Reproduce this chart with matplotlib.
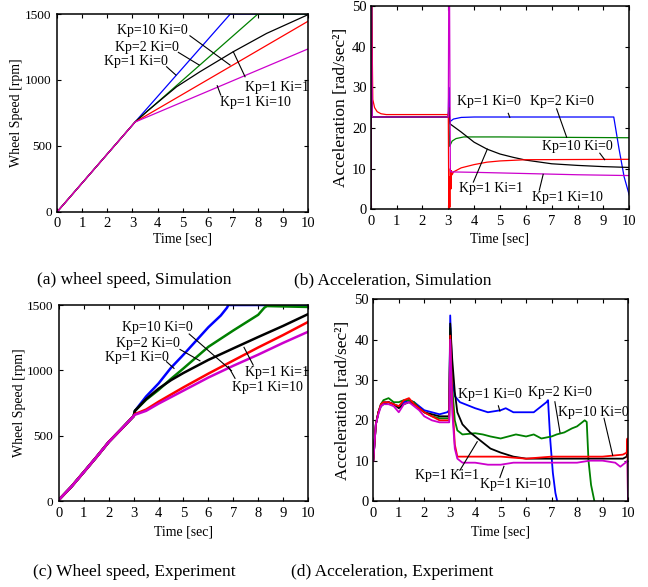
import numpy as np
import matplotlib.pyplot as plt

plt.rcParams['font.family'] = ['Liberation Serif', 'DejaVu Serif']

# colours per gain setting
C_BLUE = '#0000ff'
C_GREEN = '#008000'
C_BLACK = '#000000'
C_RED = '#ff0000'
C_MAG = '#cc00cc'

# ---------- (a) wheel speed, simulation ----------
sim_speed_t_blue = [0, 3.1, 6.9, 10]
sim_speed_blue = [0, 680, 1500, 1500]
sim_speed_t_green = [0, 3.1, 8.0, 10]
sim_speed_green = [0, 680, 1500, 1500]
sim_speed_t_black = [0, 3.1, 3.6, 4.2, 4.76, 5.69, 7.02, 8.35, 10]
sim_speed_black = [0, 680, 765, 860, 948, 1062, 1214, 1353, 1495]
sim_speed_t_red = [0, 3.1, 10]
sim_speed_red = [0, 680, 1445]
sim_speed_t_mag = [0, 3.1, 10]
sim_speed_mag = [0, 680, 1235]

# ---------- (b) acceleration, simulation ----------
sim_acc_t_blue = [0, 0.03, 0.06, 0.1, 3.0, 3.02, 3.05, 3.2, 3.5, 4.0, 9.4, 9.6, 9.8, 10]
sim_acc_blue = [0, 55, 22.7, 22.7, 22.7, 30, 21.5, 22.2, 22.6, 22.7, 22.7, 15, 8, 3.5]
sim_acc_t_green = [0, 0.03, 0.06, 0.1, 3.0, 3.02, 3.05, 3.15, 3.3, 3.6, 5.0, 10]
sim_acc_green = [0, 55, 22.7, 22.7, 22.7, 25, 15.5, 16.8, 17.4, 17.8, 17.8, 17.6]
sim_acc_t_black = [0, 0.03, 0.06, 0.1, 3.0, 3.02, 3.07, 3.5, 4.0, 4.5, 5.0, 5.5, 6.0, 7.0, 8.0, 9.0, 10]
sim_acc_black = [0, 55, 22.7, 22.7, 22.7, 25, 21.0, 19.0, 16.5, 14.8, 13.6, 12.8, 12.1, 11.2, 10.8, 10.5, 10.3]
sim_acc_t_red = [0, 0.03, 0.08, 0.15, 0.25, 0.4, 0.6, 3.0, 3.02, 3.04, 3.06, 3.08, 3.1, 3.12, 3.15, 3.2,
                 3.5, 4.0, 4.5, 5.0, 6.0, 10]
sim_acc_red = [0, 55, 27, 25, 24, 23.5, 23.3, 23.3, 0, 8, 0.5, 10, 5, 9.5, 8.5, 9.2,
               10.2, 11.0, 11.6, 11.9, 12.2, 12.3]
sim_acc_t_mag = [0, 0.03, 0.06, 3.0, 3.02, 3.05, 3.08, 3.1, 4.0, 6.0, 8.0, 10]
sim_acc_mag = [0, 55, 22.7, 22.7, 55, 50, 9.5, 9.2, 9.1, 8.8, 8.5, 8.3]

# ---------- (c) wheel speed, experiment ----------
exp_pre_t = [0, 0.5, 1.0, 1.5, 2.0, 2.5, 2.9, 3.0]
exp_pre_speed = [10, 110, 222, 335, 452, 550, 630, 650]
exp_speed_t_blue = [3.05, 3.5, 4.0, 4.5, 5.0, 5.5, 6.0, 6.5, 6.75, 6.8, 10]
exp_speed_blue = [690, 800, 900, 1020, 1120, 1225, 1330, 1420, 1480, 1500, 1500]
exp_speed_t_green = [3.05, 3.5, 4.0, 4.5, 5.0, 6.0, 7.0, 8.0, 8.25, 8.35, 10]
exp_speed_green = [690, 775, 850, 935, 1015, 1180, 1305, 1425, 1480, 1492, 1485]
exp_speed_t_black = [3.05, 3.5, 4.0, 4.5, 5.0, 6.0, 7.0, 8.0, 9.0, 10]
exp_speed_black = [690, 780, 860, 925, 980, 1080, 1168, 1255, 1340, 1430]
exp_speed_t_red = [3.05, 3.5, 4.0, 5.0, 6.0, 7.0, 8.0, 9.0, 10]
exp_speed_red = [665, 700, 760, 870, 975, 1075, 1175, 1270, 1370]
exp_speed_t_mag = [3.05, 3.5, 4.0, 5.0, 6.0, 7.0, 8.0, 9.0, 10]
exp_speed_mag = [660, 690, 745, 845, 945, 1035, 1120, 1210, 1295]

# ---------- (d) acceleration, experiment ----------
exp_acc_pre_t = [0, 0.1, 0.2, 0.3, 0.4, 0.6, 0.8, 1.0, 1.2, 1.4, 1.6, 1.8, 2.0, 2.3, 2.6, 2.9, 2.98, 3.02]
exp_acc_pre_blue = [10, 19, 22, 24, 24.5, 24.5, 24, 23.5, 24.5, 25, 24.5, 23.5, 22.5, 22, 21.5, 22, 22.5, 46]
exp_acc_pre_green = [10, 19, 22, 24, 25, 25.5, 24.5, 24.5, 25, 25, 24.5, 23, 22, 21, 20.5, 20.5, 20.5, 43]
exp_acc_pre_black = [10, 19, 22, 23.5, 24, 24.5, 24, 23, 24, 24.5, 24, 23, 22, 21.5, 21, 21, 21, 44]
exp_acc_pre_red = [10, 19, 22, 24, 24.5, 24.5, 24, 23.5, 25, 25.5, 24, 23, 22, 21, 20, 20, 20, 41]
exp_acc_pre_mag = [10, 19, 21.5, 23.5, 24, 24, 23.5, 22, 24, 24.5, 23.5, 22.5, 21, 20, 19.5, 19.5, 19.5, 40]

exp_acc_t_blue = [3.1, 3.2, 3.4, 3.6, 4.0, 4.5, 5.0, 5.2, 5.5, 6.0, 6.3, 6.5, 6.7, 6.8, 6.86,
                  6.95, 7.05, 7.15, 7.22]
exp_acc_blue = [30, 26, 24.5, 24, 23, 22, 22.5, 23, 22, 22, 22, 23, 24, 24.5, 25,
                15, 7, 2, 0]
exp_acc_t_green = [3.1, 3.2, 3.3, 3.5, 4.0, 4.3, 4.6, 5.0, 5.3, 5.6, 6.0, 6.3, 6.6, 7.0, 7.2, 7.5,
                   7.8, 8.0, 8.2, 8.3, 8.38, 8.45, 8.55, 8.68]
exp_acc_green = [28, 20, 17.5, 16.5, 16.8, 16.5, 16, 15.5, 16, 16.5, 16, 16.5, 15.5, 16, 16.5, 17,
                 18, 18.5, 19.5, 20, 19.6, 10, 4, 0]
exp_acc_t_black = [3.1, 3.2, 3.3, 3.5, 3.8, 4.0, 4.3, 4.6, 5.0, 5.5, 6.0, 7.0, 8.0, 9.0, 9.8, 9.95, 10]
exp_acc_black = [35, 27, 22, 19, 17, 16, 14.5, 13, 12, 11, 10.5, 10.5, 10.5, 10.5, 10.5, 11, 14]
exp_acc_t_red = [3.1, 3.2, 3.3, 3.5, 4.0, 5.0, 6.0, 7.0, 8.0, 9.0, 9.8, 9.95, 9.98, 10]
exp_acc_red = [25, 14, 11, 11, 11, 11, 10.5, 11, 11, 11, 11.5, 12, 15.5, 0]
exp_acc_t_mag = [3.1, 3.2, 3.3, 3.5, 4.0, 4.5, 5.0, 5.5, 6.0, 7.0, 8.0, 8.5, 9.0, 9.5, 9.7, 9.9, 9.98, 10]
exp_acc_mag = [22, 13, 10.5, 9.5, 9.5, 9, 9, 9.5, 9.5, 9.5, 9.5, 10, 10, 9.5, 8.5, 9.5, 10, 0]

# annotations: (text, text position, pointer start, pointer end)
ann_a = [('Kp=10 Ki=0', (2.38, 1378), (5.29, 1335), (6.89, 1113)),
         ('Kp=2 Ki=0', (2.30, 1244), (4.83, 1209), (5.66, 1113)),
         ('Kp=1 Ki=0', (1.86, 1138), (4.36, 1100), (4.73, 1037)),
         ('Kp=1 Ki=1', (7.49, 941), (7.49, 1024), (7.02, 1214)),
         ('Kp=1 Ki=10', (6.49, 830), (6.52, 885), (6.38, 956))]
ann_b = [('Kp=1 Ki=0', (3.35, 26.6), (5.32, 23.6), (5.38, 22.6)),
         ('Kp=2 Ki=0', (6.16, 26.6), (7.19, 24.7), (7.58, 17.7)),
         ('Kp=10 Ki=0', (6.64, 15.4), (8.86, 13.8), (9.05, 12.2)),
         ('Kp=1 Ki=1', (3.42, 5.0), (3.97, 6.7), (4.51, 14.8)),
         ('Kp=1 Ki=10', (6.25, 3.0), (6.52, 4.7), (6.67, 8.6))]
ann_c = [('Kp=10 Ki=0', (2.52, 1329), (5.23, 1278), (6.93, 997)),
         ('Kp=2 Ki=0', (2.28, 1206), (4.86, 1160), (5.66, 1073)),
         ('Kp=1 Ki=0', (1.85, 1096), (4.32, 1066), (4.62, 1015)),
         ('Kp=1 Ki=1', (7.47, 985), (7.80, 1040), (7.43, 1176)),
         ('Kp=1 Ki=10', (6.94, 870), (7.07, 939), (6.80, 1030))]
ann_d = [('Kp=1 Ki=0', (3.34, 26.3), (4.91, 23.6), (4.97, 22.3)),
         ('Kp=2 Ki=0', (6.09, 26.9), (7.13, 24.6), (7.33, 17.0)),
         ('Kp=10 Ki=0', (7.27, 22.0), (9.06, 20.5), (9.40, 11.3)),
         ('Kp=1 Ki=1', (1.64, 6.2), (3.40, 7.6), (4.08, 14.7)),
         ('Kp=1 Ki=10', (4.19, 4.0), (4.97, 5.8), (5.13, 8.6))]

captions = ['(a) wheel speed, Simulation', '(b) Acceleration, Simulation',
            '(c) Wheel speed, Experiment', '(d) Acceleration, Experiment']

fig = plt.figure(figsize=(6.48, 5.87), dpi=100)
ax_a = fig.add_axes([0.0884, 0.6394, 0.3869, 0.3367])
ax_b = fig.add_axes([0.5721, 0.6434, 0.3990, 0.3464])
ax_c = fig.add_axes([0.0910, 0.1465, 0.3843, 0.3339])
ax_d = fig.add_axes([0.5761, 0.1465, 0.3930, 0.3436])

lw_s = 0.9
ax_a.plot(sim_speed_t_blue, sim_speed_blue, color=C_BLUE, lw=lw_s)
ax_a.plot(sim_speed_t_green, sim_speed_green, color=C_GREEN, lw=lw_s)
ax_a.plot(sim_speed_t_black, sim_speed_black, color=C_BLACK, lw=lw_s)
ax_a.plot(sim_speed_t_red, sim_speed_red, color=C_RED, lw=lw_s)
ax_a.plot(sim_speed_t_mag, sim_speed_mag, color=C_MAG, lw=lw_s)

ax_b.plot(sim_acc_t_blue, sim_acc_blue, color=C_BLUE, lw=lw_s)
ax_b.plot(sim_acc_t_green, sim_acc_green, color=C_GREEN, lw=lw_s)
ax_b.plot(sim_acc_t_black, sim_acc_black, color=C_BLACK, lw=lw_s)
ax_b.plot(sim_acc_t_red, sim_acc_red, color=C_RED, lw=lw_s)
ax_b.plot(sim_acc_t_mag, sim_acc_mag, color=C_MAG, lw=lw_s)

lw_e = 1.8
for t, v, c in [(exp_speed_t_blue, exp_speed_blue, C_BLUE),
                (exp_speed_t_green, exp_speed_green, C_GREEN),
                (exp_speed_t_black, exp_speed_black, C_BLACK),
                (exp_speed_t_red, exp_speed_red, C_RED),
                (exp_speed_t_mag, exp_speed_mag, C_MAG)]:
    ax_c.plot(exp_pre_t + t, exp_pre_speed + v, color=c, lw=lw_e)

lw_d = 1.3
for pre, t, v, c in [(exp_acc_pre_blue, exp_acc_t_blue, exp_acc_blue, C_BLUE),
                     (exp_acc_pre_green, exp_acc_t_green, exp_acc_green, C_GREEN),
                     (exp_acc_pre_black, exp_acc_t_black, exp_acc_black, C_BLACK),
                     (exp_acc_pre_red, exp_acc_t_red, exp_acc_red, C_RED),
                     (exp_acc_pre_mag, exp_acc_t_mag, exp_acc_mag, C_MAG)]:
    ax_d.plot(exp_acc_pre_t + t, pre + v, color=c, lw=lw_d)

for ax, anns in [(ax_a, ann_a), (ax_b, ann_b), (ax_c, ann_c), (ax_d, ann_d)]:
    for txt, pos, p0, p1 in anns:
        ax.text(pos[0], pos[1], txt, fontsize=10, ha='left', va='center')
        ax.plot([p0[0], p1[0]], [p0[1], p1[1]], color='black', lw=0.8)

# (axis, y label, y max, y step, y tick size, y tick pad, y label size, ylabel x, xlabel y)
setup = [(ax_a, 'Wheel Speed [rpm]', 1500, 500, 9.5, 4, 10, -0.163, -0.138),
         (ax_b, 'Acceleration [rad/sec²]', 50, 10, 10.5, 3, 12.5, -0.115, -0.146),
         (ax_c, 'Wheel Speed [rpm]', 1500, 500, 9.5, 4, 10, -0.16, -0.158),
         (ax_d, 'Acceleration [rad/sec²]', 50, 10, 10.5, 3, 12.5, -0.119, -0.154)]
for ax, ylab, ymax, ystep, ysize, ypad, ylsize, ylx, xly in setup:
    ax.set_xlim(0, 10)
    ax.set_ylim(0, ymax)
    ax.set_xticks(np.arange(0, 11, 1))
    ax.set_yticks(np.arange(0, ymax + 1, ystep))
    ax.tick_params(direction='in', top=True, right=True, length=3, width=0.8)
    ax.tick_params(axis='x', labelsize=10.5, pad=4)
    ax.tick_params(axis='y', labelsize=ysize, pad=ypad)
    for s in ax.spines.values():
        s.set_linewidth(1.1)
    ax.set_xlabel('Time [sec]', fontsize=10, va='center')
    ax.set_ylabel(ylab, fontsize=ylsize, va='center')
    ax.xaxis.set_label_coords(0.5, xly)
    ax.yaxis.set_label_coords(ylx, 0.5)

cap_pos = [(133.8, 280), (393, 280), (134, 572.5), (392.5, 572.5)]
for (px, py), cap in zip(cap_pos, captions):
    fig.text(px / 648, 1 - py / 587, cap, fontsize=12.5, ha='center', va='center')

fig.savefig('out.png', dpi=100)
